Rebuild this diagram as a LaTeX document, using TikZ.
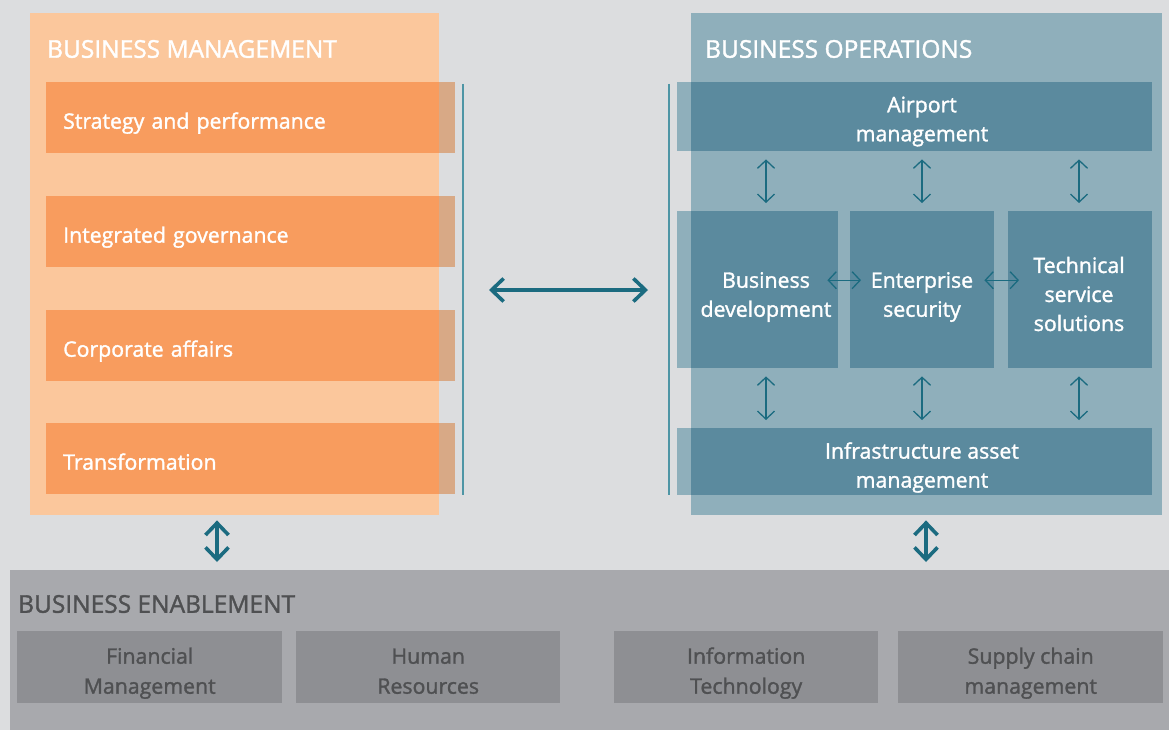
\documentclass[tikz,border=0pt]{standalone}
\usepackage{fontspec}
\setmainfont{Open Sans}[FakeBold=1.5]
\usetikzlibrary{arrows.meta}

\definecolor{canvas}{HTML}{DCDDDF}
\definecolor{orlight}{HTML}{FBC79C}
\definecolor{orbar}{HTML}{F89C5E}
\definecolor{orgray}{HTML}{D8A986}
\definecolor{bllight}{HTML}{8FAFBB}
\definecolor{blbar}{HTML}{5B8A9E}
\definecolor{rule}{HTML}{4E95A5}
\definecolor{arrowteal}{HTML}{1B6B80}
\definecolor{enbox}{HTML}{A8A9AD}
\definecolor{enitem}{HTML}{8E8F93}
\definecolor{entext}{HTML}{4F5052}

\tikzset{
  panel/.style={draw=none, inner sep=0pt, anchor=north west},
  title/.style={anchor=west, inner sep=0pt, font=\fontsize{24.5}{29}\selectfont, text=white},
  obar/.style={panel, fill=orbar, text=white, minimum height=71pt,
    text width=375pt, inner xsep=17pt, align=left, text height=22pt, text depth=0pt,
    font=\fontsize{21.3}{26}\selectfont},
  bbar/.style={panel, fill=blbar},
  btext/.style={inner sep=0pt, align=center, text=white,
    font=\fontsize{21.3}{29}\selectfont},
  eitem/.style={panel, fill=enitem, minimum width=265pt, minimum height=72pt,
    align=center, text=entext, text height=58pt, text depth=5pt,
    font=\fontsize{21.3}{30}\selectfont},
  sarrow/.style={draw=arrowteal, line width=1.3pt,
    {Straight Barb[length=8pt,width=17pt]}-{Straight Barb[length=8pt,width=17pt]}},
  barrow/.style={draw=arrowteal, line width=3.6pt,
    {Straight Barb[length=12pt,width=23pt]}-{Straight Barb[length=12pt,width=23pt]}},
  vrule/.style={draw=rule, line width=2.2pt},
}

\begin{document}
\begin{tikzpicture}[x=1pt, y=-1pt]
  \useasboundingbox (0,0) rectangle (1169,730);
  \fill[canvas] (0,0) rectangle (1169,730);

  % ---- Business management ----
  \node[panel, fill=orlight, minimum width=409pt, minimum height=502pt] (bm) at (30,13) {};
  \node[title] (bmt) at (47,49) {BUSINESS MANAGEMENT};
  \node[obar] (sp) at (46,82)  {Strategy and performance};
  \node[obar] (ig) at (46,196) {Integrated governance};
  \node[obar] (ca) at (46,310) {Corporate affairs};
  \node[obar] (tf) at (46,423) {Transformation};
  \foreach \b in {sp,ig,ca,tf}
    \fill[orgray] (bm.east |- \b.north) rectangle (\b.south east);
  \coordinate (lrtop) at (463,84);
  \coordinate (lrbot) at (463,495);
  \draw[vrule] (lrtop) -- (lrbot);

  % ---- Business operations ----
  \node[panel, fill=bllight, minimum width=471pt, minimum height=502pt] (bo) at (691,13) {};
  \node[title] (bot) at (705,49) {BUSINESS OPERATIONS};
  \node[bbar, minimum width=475pt, minimum height=69pt] (am) at (677,82) {};
  \node[bbar, minimum width=161pt, minimum height=157pt] (bd) at (677,211) {};
  \node[bbar, minimum width=144pt, minimum height=157pt] (es) at (850,211) {};
  \node[bbar, minimum width=144pt, minimum height=157pt] (ts) at (1008,211) {};
  \node[bbar, minimum width=475pt, minimum height=67pt] (ia) at (677,428) {};
  \foreach \b in {am,bd,ia}
    \fill[bllight] (\b.north west) rectangle (bo.west |- \b.south);

  \node[btext] (amt) at (922,121.5) {Airport\\management};
  \node[btext] (bdt) at (766,297) {Business\\development};
  \node[btext] (est) at (922,297) {Enterprise\\security};
  \node[btext] (tst) at (1079,294) {Technical\\service\\solutions};
  \node[btext] (iat) at (922,467.5) {Infrastructure asset\\management};

  \coordinate (rrtop) at (669,84);
  \coordinate (rrbot) at (669,495);
  \draw[vrule] (rrtop) -- (rrbot);

  % connectors inside operations
  \foreach \t/\b in {bdt/bd, est/es, tst/ts} {
    \draw[sarrow] ([yshift=-8pt]\t |- am.south) -- ([yshift=8pt]\t |- \b.north);
    \draw[sarrow] ([yshift=-8pt]\t |- \b.south) -- ([yshift=8pt]\t |- ia.north);
  }
  \draw[sarrow] ([xshift=-11pt,yshift=9.5pt]bd.east) -- ([xshift=11pt,yshift=9.5pt]es.west);
  \draw[sarrow] ([xshift=-10pt,yshift=9.5pt]es.east) -- ([xshift=11pt,yshift=9.5pt]ts.west);

  % management <-> operations
  \draw[barrow] ([xshift=26pt]lrtop |- 0,290) -- ([xshift=-21pt]rrtop |- 0,290);

  % ---- Business enablement ----
  \node[panel, fill=enbox, minimum width=1159pt, minimum height=160pt] (be) at (10,570) {};
  \node[title, text=entext] (bet) at (18,604) {BUSINESS ENABLEMENT};
  \node[eitem] (fm) at (17,631)  {Financial\\Management};
  \node[eitem, minimum width=264pt] (hr) at (296,631) {Human\\Resources};
  \node[eitem, minimum width=264pt] (it) at (614,631) {Information\\Technology};
  \node[eitem] (sc) at (898,631) {Supply chain\\management};

  \draw[barrow] ([yshift=-5pt]bm.south -| 217,0) -- ([yshift=8pt]be.north -| 217,0);
  \draw[barrow] ([yshift=-5pt]bo.south -| 926,0) -- ([yshift=8pt]be.north -| 926,0);
\end{tikzpicture}
\end{document}
